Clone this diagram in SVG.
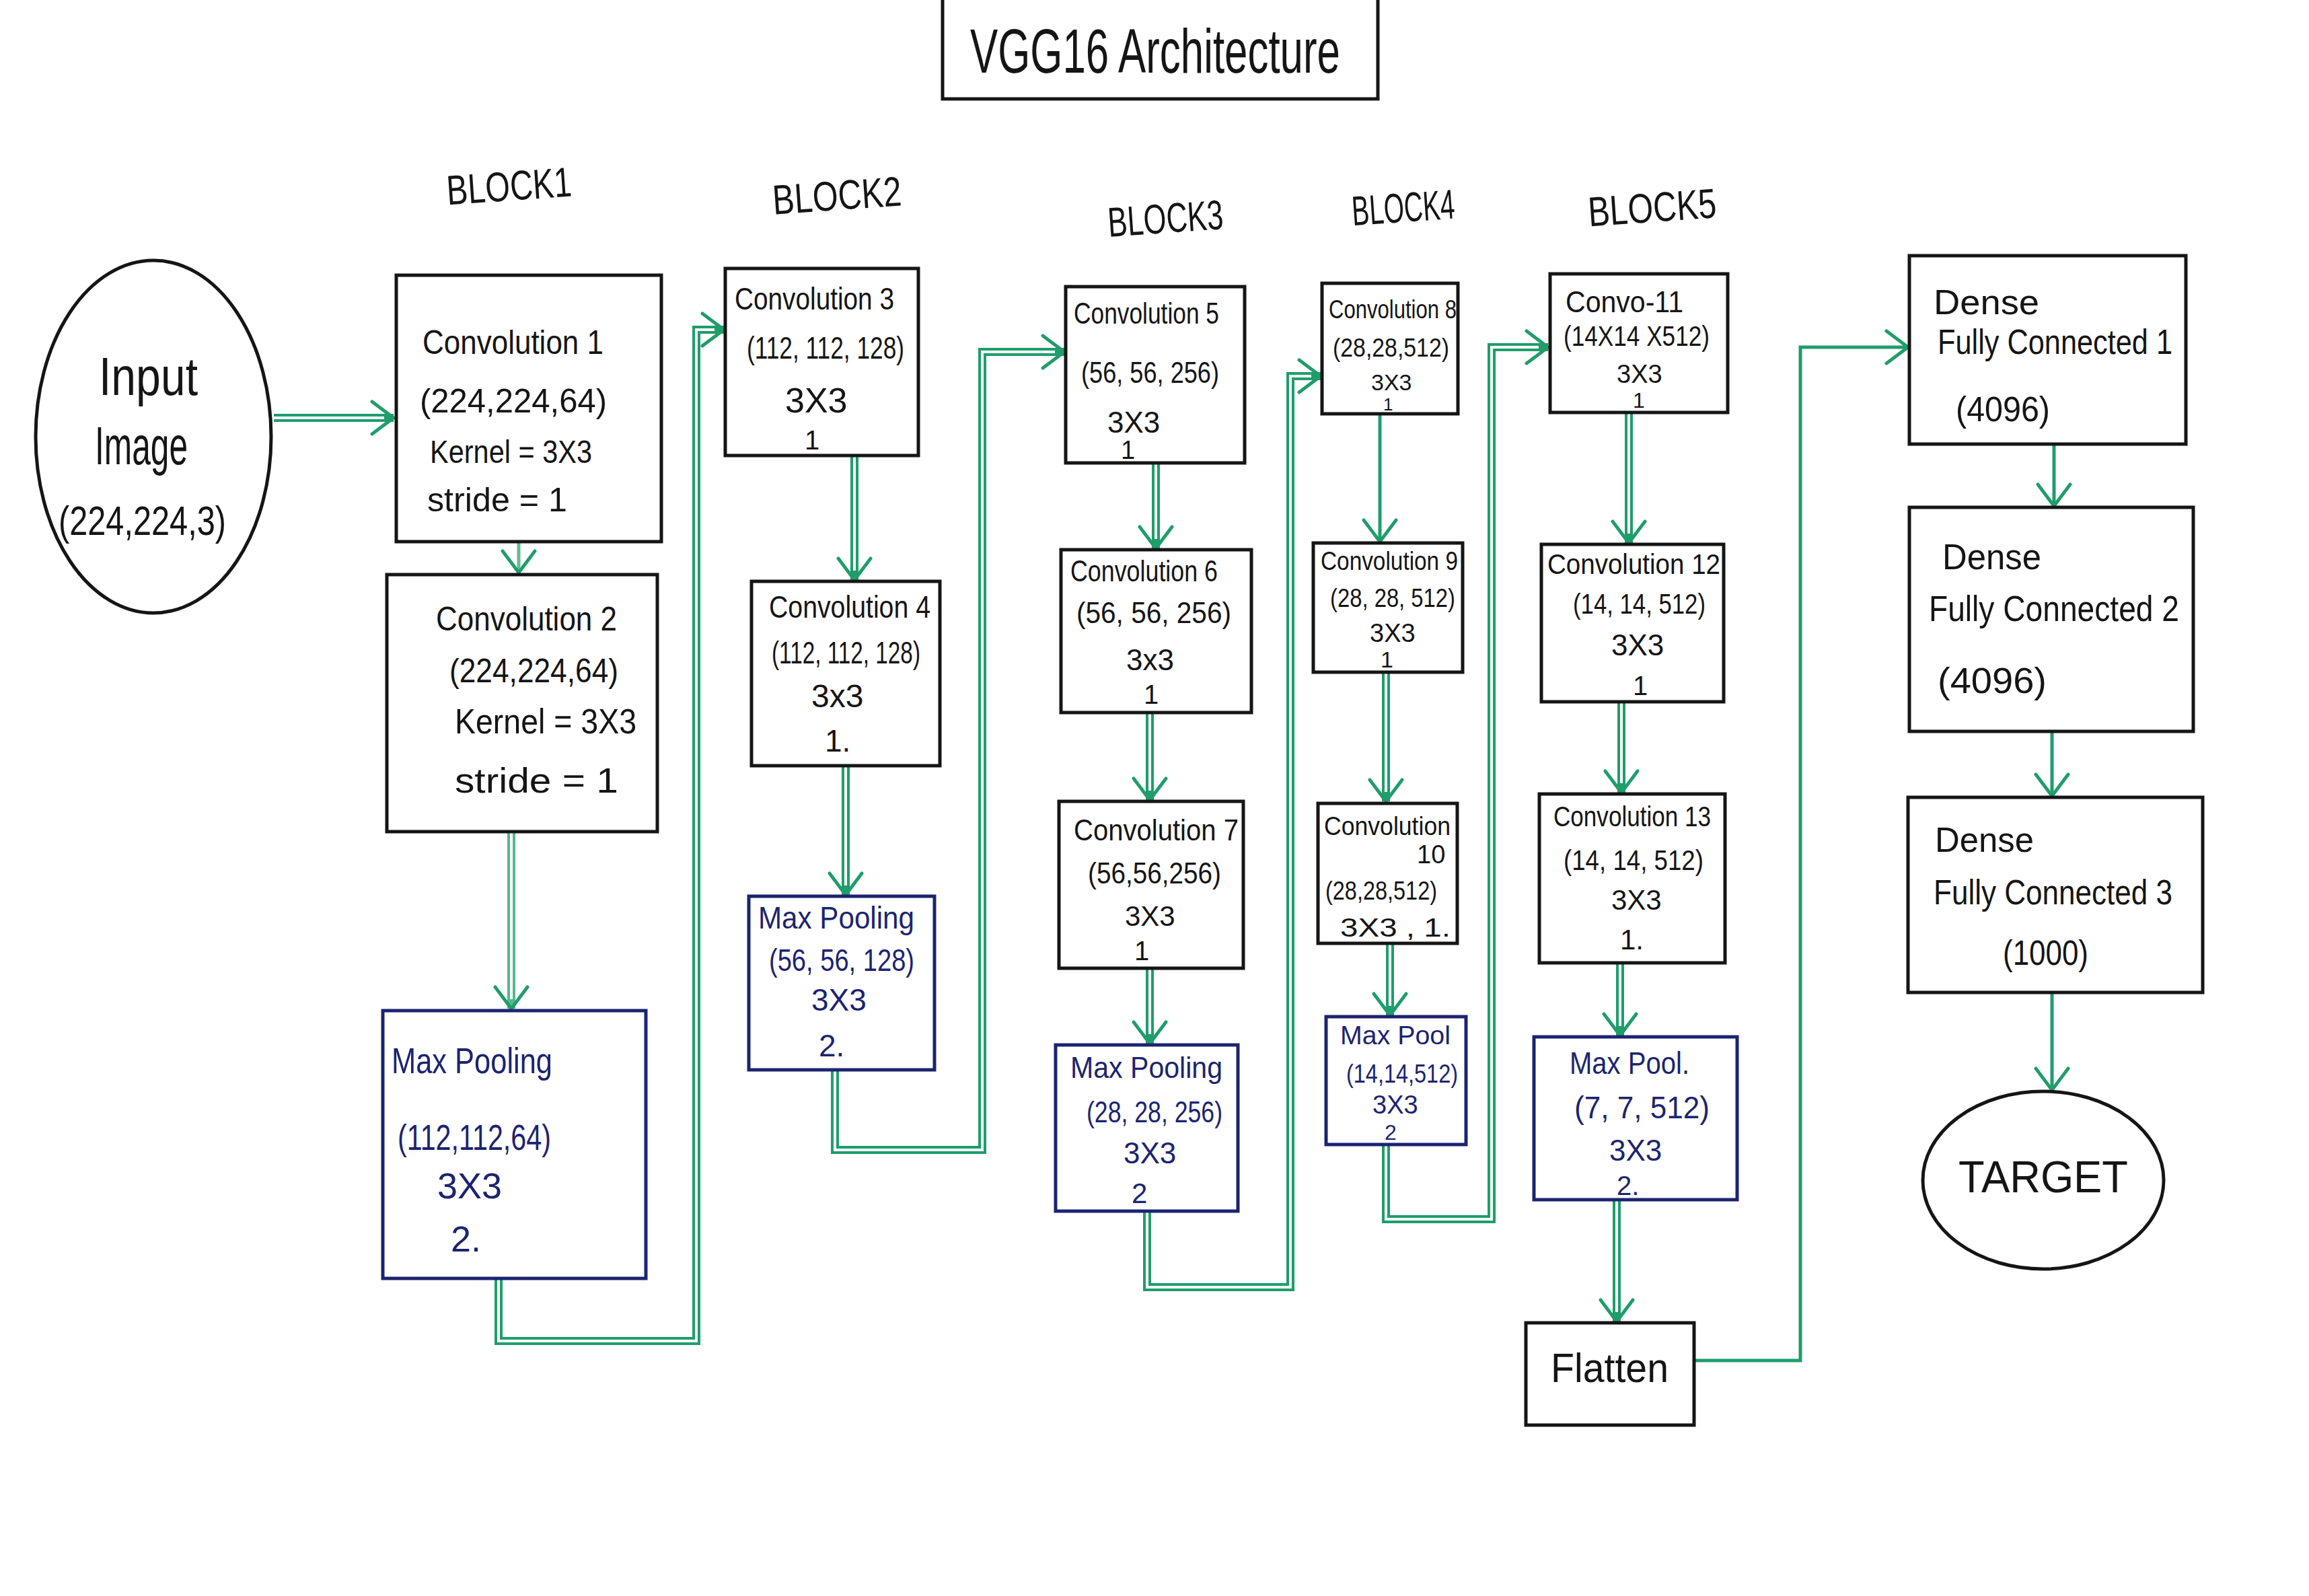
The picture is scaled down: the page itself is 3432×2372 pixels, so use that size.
<svg xmlns="http://www.w3.org/2000/svg" width="3432" height="2372" viewBox="0 0 3432 2372">
<style>
text{font-family:"Liberation Sans",Arial,sans-serif;fill:#151515}
.box{fill:none;stroke:#151515;stroke-width:5}
.pool{fill:none;stroke:#1c2470;stroke-width:5}
.pt{fill:#1c2470}
.ell{fill:none;stroke:#151515;stroke-width:5}
.go{fill:none;stroke:#1f9d6b;stroke-width:12;stroke-linejoin:miter}
.gi{fill:none;stroke:#ffffff;stroke-width:4;stroke-linejoin:miter}
.gs{fill:none;stroke:#1f9d6b;stroke-width:5}
.blk{font-size:62px}
</style>
<defs>
<marker id="arr" markerUnits="userSpaceOnUse" markerWidth="80" markerHeight="80" viewBox="-40 -40 50 80" refX="0" refY="0" orient="auto" overflow="visible">
<path d="M-32,-24 L0,0 L-32,24" fill="none" stroke="#1f9d6b" stroke-width="5" stroke-linecap="round" stroke-linejoin="round"/>
</marker>
</defs>
<rect x="0" y="0" width="3432" height="2372" fill="#ffffff"/>

<g id="title">
<rect x="1401" y="-5" width="647" height="152" class="box"/>
<text x="1442" y="108" font-size="92" textLength="550" lengthAdjust="spacingAndGlyphs">VGG16 Architecture</text>
</g>

<g id="block-labels">
<text class="blk" x="663" y="298" textLength="186" lengthAdjust="spacingAndGlyphs" transform="rotate(-4 756 268)">BLOCK1</text>
<text class="blk" x="1148" y="312" textLength="192" lengthAdjust="spacingAndGlyphs" transform="rotate(-4 1244 290)">BLOCK2</text>
<text class="blk" x="1646" y="346" textLength="172" lengthAdjust="spacingAndGlyphs" transform="rotate(-4 1732 322)">BLOCK3</text>
<text class="blk" x="2009" y="330" textLength="153" lengthAdjust="spacingAndGlyphs" transform="rotate(-4 2085 306)">BLOCK4</text>
<text class="blk" x="2360" y="330" textLength="191" lengthAdjust="spacingAndGlyphs" transform="rotate(-4 2455 306)">BLOCK5</text>
</g>

<g id="connectors">
<path class="go" d="M407,621 H585" marker-end="url(#arr)"/>
<path class="gi" d="M407,621 H571"/>
<path class="gs" d="M771,806 V851" marker-end="url(#arr)" stroke-opacity="0.7"/>
<path class="go" d="M760,1238 V1499" marker-end="url(#arr)" stroke-opacity="0.75"/>
<path class="gi" d="M760,1238 V1485"/>
<path class="go" d="M741,1901 V1993 H1035 V490 H1076" marker-end="url(#arr)"/>
<path class="gi" d="M741,1901 V1993 H1035 V490 H1062"/>
<path class="go" d="M1270,677 V862" marker-end="url(#arr)"/>
<path class="gi" d="M1270,677 V848"/>
<path class="go" d="M1257,1138 V1330" marker-end="url(#arr)"/>
<path class="gi" d="M1257,1138 V1316"/>
<path class="go" d="M1241,1590 V1709 H1460 V523 H1582" marker-end="url(#arr)"/>
<path class="gi" d="M1241,1590 V1709 H1460 V523 H1568"/>
<path class="go" d="M1718,688 V815" marker-end="url(#arr)"/>
<path class="gi" d="M1718,688 V801"/>
<path class="go" d="M1709,1059 V1189" marker-end="url(#arr)"/>
<path class="gi" d="M1709,1059 V1175"/>
<path class="go" d="M1709,1439 V1551" marker-end="url(#arr)"/>
<path class="gi" d="M1709,1439 V1537"/>
<path class="go" d="M1705,1800 V1913 H1918 V559 H1963" marker-end="url(#arr)"/>
<path class="gi" d="M1705,1800 V1913 H1918 V559 H1949"/>
<path class="gs" d="M2051,615 V805" marker-end="url(#arr)"/>
<path class="go" d="M2060,999 V1191" marker-end="url(#arr)"/>
<path class="gi" d="M2060,999 V1177"/>
<path class="go" d="M2066,1402 V1509" marker-end="url(#arr)"/>
<path class="gi" d="M2066,1402 V1495"/>
<path class="go" d="M2060,1701 V1812 H2217 V516 H2301" marker-end="url(#arr)"/>
<path class="gi" d="M2060,1701 V1812 H2217 V516 H2287"/>
<path class="go" d="M2421,613 V807" marker-end="url(#arr)"/>
<path class="gi" d="M2421,613 V793"/>
<path class="go" d="M2410,1043 V1178" marker-end="url(#arr)"/>
<path class="gi" d="M2410,1043 V1164"/>
<path class="go" d="M2408,1431 V1539" marker-end="url(#arr)"/>
<path class="gi" d="M2408,1431 V1525"/>
<path class="go" d="M2403,1783 V1964" marker-end="url(#arr)"/>
<path class="gi" d="M2403,1783 V1950"/>
<path class="gs" d="M2518,2022 H2676 V516 H2836" marker-end="url(#arr)"/>
<path class="gs" d="M3053,660 V752" marker-end="url(#arr)"/>
<path class="gs" d="M3050,1087 V1183" marker-end="url(#arr)"/>
<path class="gs" d="M3050,1475 V1620" marker-end="url(#arr)"/>
</g>

<g id="input">
<ellipse cx="228" cy="649" rx="175" ry="262" class="ell"/>
<text x="147" y="587" font-size="80" textLength="147" lengthAdjust="spacingAndGlyphs">Input</text>
<text x="141" y="690" font-size="80" textLength="138" lengthAdjust="spacingAndGlyphs">Image</text>
<text x="87" y="795" font-size="62" textLength="249" lengthAdjust="spacingAndGlyphs">(224,224,3)</text>
</g>

<g id="conv1">
<rect x="589" y="409" width="394" height="396" class="box"/>
<text x="628" y="526" font-size="50" textLength="269" lengthAdjust="spacingAndGlyphs">Convolution 1</text>
<text x="624" y="613" font-size="50" textLength="278" lengthAdjust="spacingAndGlyphs">(224,224,64)</text>
<text x="639" y="688" font-size="48" textLength="241" lengthAdjust="spacingAndGlyphs">Kernel = 3X3</text>
<text x="635" y="760" font-size="50" textLength="208" lengthAdjust="spacingAndGlyphs">stride = 1</text>
</g>

<g id="conv2">
<rect x="575" y="854" width="402" height="382" class="box"/>
<text x="648" y="937" font-size="50" textLength="269" lengthAdjust="spacingAndGlyphs">Convolution 2</text>
<text x="668" y="1014" font-size="50" textLength="251" lengthAdjust="spacingAndGlyphs">(224,224,64)</text>
<text x="676" y="1090" font-size="52" textLength="270" lengthAdjust="spacingAndGlyphs">Kernel = 3X3</text>
<text x="676" y="1178" font-size="52" textLength="243" lengthAdjust="spacingAndGlyphs">stride = 1</text>
</g>

<g id="maxpool1">
<rect x="569" y="1502" width="391" height="398" class="pool"/>
<text class="pt" x="582" y="1595" font-size="54" textLength="239" lengthAdjust="spacingAndGlyphs">Max Pooling</text>
<text class="pt" x="591" y="1709" font-size="54" textLength="228" lengthAdjust="spacingAndGlyphs">(112,112,64)</text>
<text class="pt" x="650" y="1781" font-size="54">3X3</text>
<text class="pt" x="670" y="1860" font-size="54">2.</text>
</g>

<g id="conv3">
<rect x="1078" y="399" width="287" height="278" class="box"/>
<text x="1092" y="460" font-size="46" textLength="237" lengthAdjust="spacingAndGlyphs">Convolution 3</text>
<text x="1110" y="533" font-size="46" textLength="234" lengthAdjust="spacingAndGlyphs">(112, 112, 128)</text>
<text x="1167" y="613" font-size="52">3X3</text>
<text x="1196" y="668" font-size="40">1</text>
</g>

<g id="conv4">
<rect x="1117" y="864" width="280" height="274" class="box"/>
<text x="1143" y="918" font-size="46" textLength="240" lengthAdjust="spacingAndGlyphs">Convolution 4</text>
<text x="1147" y="986" font-size="46" textLength="221" lengthAdjust="spacingAndGlyphs">(112, 112, 128)</text>
<text x="1206" y="1051" font-size="48">3x3</text>
<text x="1226" y="1117" font-size="46">1.</text>
</g>

<g id="maxpool2">
<rect x="1113" y="1332" width="276" height="258" class="pool"/>
<text class="pt" x="1127" y="1380" font-size="46" textLength="232" lengthAdjust="spacingAndGlyphs">Max Pooling</text>
<text class="pt" x="1143" y="1443" font-size="46" textLength="216" lengthAdjust="spacingAndGlyphs">(56, 56, 128)</text>
<text class="pt" x="1206" y="1502" font-size="46">3X3</text>
<text class="pt" x="1217" y="1570" font-size="46">2.</text>
</g>

<g id="conv5">
<rect x="1584" y="426" width="266" height="262" class="box"/>
<text x="1596" y="481" font-size="44" textLength="216" lengthAdjust="spacingAndGlyphs">Convolution 5</text>
<text x="1607" y="569" font-size="44" textLength="205" lengthAdjust="spacingAndGlyphs">(56, 56, 256)</text>
<text x="1646" y="643" font-size="44">3X3</text>
<text x="1666" y="682" font-size="38">1</text>
</g>

<g id="conv6">
<rect x="1577" y="817" width="283" height="242" class="box"/>
<text x="1591" y="864" font-size="44" textLength="219" lengthAdjust="spacingAndGlyphs">Convolution 6</text>
<text x="1600" y="926" font-size="44" textLength="230" lengthAdjust="spacingAndGlyphs">(56, 56, 256)</text>
<text x="1674" y="996" font-size="44">3x3</text>
<text x="1700" y="1046" font-size="40">1</text>
</g>

<g id="conv7">
<rect x="1574" y="1191" width="274" height="248" class="box"/>
<text x="1596" y="1249" font-size="44" textLength="245" lengthAdjust="spacingAndGlyphs">Convolution 7</text>
<text x="1617" y="1313" font-size="44" textLength="198" lengthAdjust="spacingAndGlyphs">(56,56,256)</text>
<text x="1672" y="1376" font-size="42">3X3</text>
<text x="1686" y="1427" font-size="40">1</text>
</g>

<g id="maxpool3">
<rect x="1569" y="1553" width="271" height="247" class="pool"/>
<text class="pt" x="1591" y="1602" font-size="44" textLength="226" lengthAdjust="spacingAndGlyphs">Max Pooling</text>
<text class="pt" x="1615" y="1668" font-size="44" textLength="202" lengthAdjust="spacingAndGlyphs">(28, 28, 256)</text>
<text class="pt" x="1670" y="1729" font-size="44">3X3</text>
<text class="pt" x="1682" y="1788" font-size="42">2</text>
</g>

<g id="conv8">
<rect x="1965" y="421" width="202" height="194" class="box"/>
<text x="1975" y="473" font-size="38" textLength="190" lengthAdjust="spacingAndGlyphs">Convolution 8</text>
<text x="1981" y="530" font-size="38" textLength="173" lengthAdjust="spacingAndGlyphs">(28,28,512)</text>
<text x="2038" y="580" font-size="34">3X3</text>
<text x="2056" y="610" font-size="26">1</text>
</g>

<g id="conv9">
<rect x="1952" y="807" width="222" height="192" class="box"/>
<text x="1963" y="847" font-size="38" textLength="204" lengthAdjust="spacingAndGlyphs">Convolution 9</text>
<text x="1977" y="902" font-size="38" textLength="186" lengthAdjust="spacingAndGlyphs">(28, 28, 512)</text>
<text x="2036" y="954" font-size="38">3X3</text>
<text x="2052" y="992" font-size="34">1</text>
</g>

<g id="conv10">
<rect x="1959" y="1194" width="207" height="208" class="box"/>
<text x="1968" y="1241" font-size="38" textLength="188" lengthAdjust="spacingAndGlyphs">Convolution</text>
<text x="2106" y="1283" font-size="38">10</text>
<text x="1970" y="1337" font-size="38" textLength="166" lengthAdjust="spacingAndGlyphs">(28,28,512)</text>
<text x="1992" y="1392" font-size="38" textLength="164" lengthAdjust="spacingAndGlyphs">3X3 , 1.</text>
</g>

<g id="maxpool4">
<rect x="1971" y="1511" width="208" height="190" class="pool"/>
<text class="pt" x="1992" y="1552" font-size="38" textLength="164" lengthAdjust="spacingAndGlyphs">Max Pool</text>
<text class="pt" x="2001" y="1609" font-size="38" textLength="166" lengthAdjust="spacingAndGlyphs">(14,14,512)</text>
<text class="pt" x="2040" y="1655" font-size="38">3X3</text>
<text class="pt" x="2058" y="1694" font-size="32">2</text>
</g>

<g id="conv11">
<rect x="2304" y="407" width="264" height="206" class="box"/>
<text x="2327" y="464" font-size="44" textLength="175" lengthAdjust="spacingAndGlyphs">Convo-11</text>
<text x="2324" y="514" font-size="42" textLength="217" lengthAdjust="spacingAndGlyphs">(14X14 X512)</text>
<text x="2403" y="569" font-size="38">3X3</text>
<text x="2427" y="606" font-size="32">1</text>
</g>

<g id="conv12">
<rect x="2291" y="809" width="271" height="234" class="box"/>
<text x="2300" y="853" font-size="42" textLength="257" lengthAdjust="spacingAndGlyphs">Convolution 12</text>
<text x="2338" y="912" font-size="42" textLength="197" lengthAdjust="spacingAndGlyphs">(14, 14, 512)</text>
<text x="2395" y="974" font-size="44">3X3</text>
<text x="2427" y="1033" font-size="40">1</text>
</g>

<g id="conv13">
<rect x="2288" y="1180" width="276" height="251" class="box"/>
<text x="2309" y="1228" font-size="42" textLength="234" lengthAdjust="spacingAndGlyphs">Convolution 13</text>
<text x="2324" y="1293" font-size="42" textLength="208" lengthAdjust="spacingAndGlyphs">(14, 14, 512)</text>
<text x="2395" y="1352" font-size="42">3X3</text>
<text x="2408" y="1411" font-size="42">1.</text>
</g>

<g id="maxpool5">
<rect x="2280" y="1541" width="302" height="242" class="pool"/>
<text class="pt" x="2333" y="1596" font-size="46" textLength="178" lengthAdjust="spacingAndGlyphs">Max Pool.</text>
<text class="pt" x="2340" y="1662" font-size="46" textLength="201" lengthAdjust="spacingAndGlyphs">(7, 7, 512)</text>
<text class="pt" x="2392" y="1725" font-size="44">3X3</text>
<text class="pt" x="2403" y="1776" font-size="40">2.</text>
</g>

<g id="flatten">
<rect x="2268" y="1966" width="250" height="152" class="box"/>
<text x="2305" y="2054" font-size="62" textLength="175" lengthAdjust="spacingAndGlyphs">Flatten</text>
</g>

<g id="dense1">
<rect x="2838" y="380" width="411" height="280" class="box"/>
<text x="2874" y="467" font-size="52" textLength="157" lengthAdjust="spacingAndGlyphs">Dense</text>
<text x="2880" y="526" font-size="52" textLength="349" lengthAdjust="spacingAndGlyphs">Fully Connected 1</text>
<text x="2907" y="626" font-size="52" textLength="140" lengthAdjust="spacingAndGlyphs">(4096)</text>
</g>

<g id="dense2">
<rect x="2838" y="754" width="422" height="333" class="box"/>
<text x="2887" y="846" font-size="54" textLength="147" lengthAdjust="spacingAndGlyphs">Dense</text>
<text x="2867" y="923" font-size="54" textLength="372" lengthAdjust="spacingAndGlyphs">Fully Connected 2</text>
<text x="2880" y="1030" font-size="54" textLength="162" lengthAdjust="spacingAndGlyphs">(4096)</text>
</g>

<g id="dense3">
<rect x="2836" y="1185" width="438" height="290" class="box"/>
<text x="2876" y="1266" font-size="52" textLength="147" lengthAdjust="spacingAndGlyphs">Dense</text>
<text x="2874" y="1344" font-size="52" textLength="355" lengthAdjust="spacingAndGlyphs">Fully Connected 3</text>
<text x="2977" y="1434" font-size="52" textLength="127" lengthAdjust="spacingAndGlyphs">(1000)</text>
</g>

<g id="target">
<ellipse cx="3037" cy="1754" rx="179" ry="132" class="ell"/>
<text x="2911" y="1772" font-size="66" textLength="252" lengthAdjust="spacingAndGlyphs">TARGET</text>
</g>
</svg>
